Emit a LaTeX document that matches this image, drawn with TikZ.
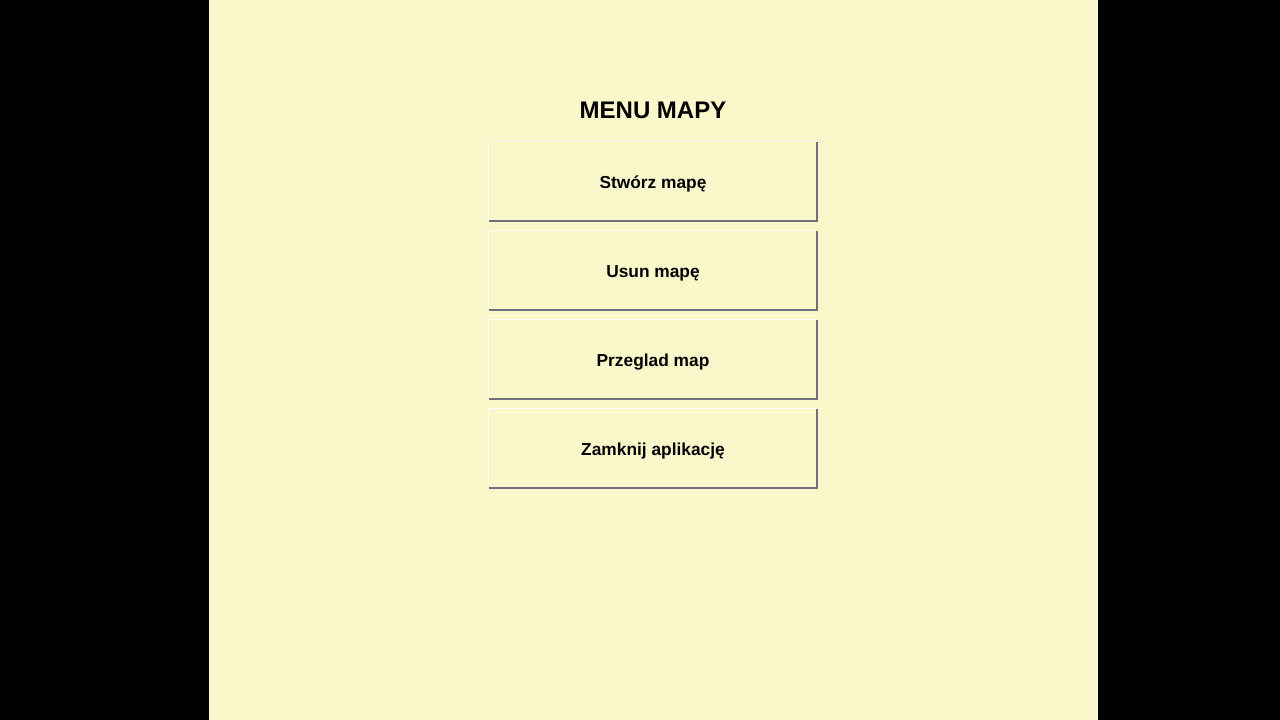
\documentclass[tikz,border=0pt]{standalone}
\usepackage{fontspec}
\setmainfont{Liberation Sans}
\definecolor{screenbg}{RGB}{250,248,202}
\definecolor{btnshade}{RGB}{112,112,120}
\tikzset{
  menubtn/.style={minimum width=246pt, minimum height=59.25pt, inner sep=0pt,
    text height=11.2pt, text depth=0pt,
    font=\bfseries\fontsize{13}{15}\selectfont},
  lightedge/.style={white, line width=0.8pt},
  darkedge/.style={btnshade, line width=1.2pt}
}
\begin{document}
\begin{tikzpicture}[x=0.75pt,y=-0.75pt]
      \useasboundingbox (0,0) rectangle (1280,720);
      \fill[black] (0,0) rectangle (1280,720);
      \fill[screenbg] (209,0) rectangle (1098,720);
      \node (title) at (653,110.5) {\bfseries\fontsize{18}{21}\selectfont MENU MAPY};
      \node[menubtn] (b1) at (653,181.5) {Stwórz mapę};
      \node[menubtn] (b2) at (653,270.5) {Usun mapę};
      \node[menubtn] (b3) at (653,359.5) {Przeglad map};
      \node[menubtn] (b4) at (653,448.5) {Zamknij aplikację};
      \foreach \b in {b1,b2,b3,b4} {
        \draw[lightedge] (\b.south west) -- (\b.north west) -- (\b.north east);
        \draw[darkedge] (\b.north east) -- (\b.south east) -- (\b.south west);
      }
    \end{tikzpicture}
\end{document}
